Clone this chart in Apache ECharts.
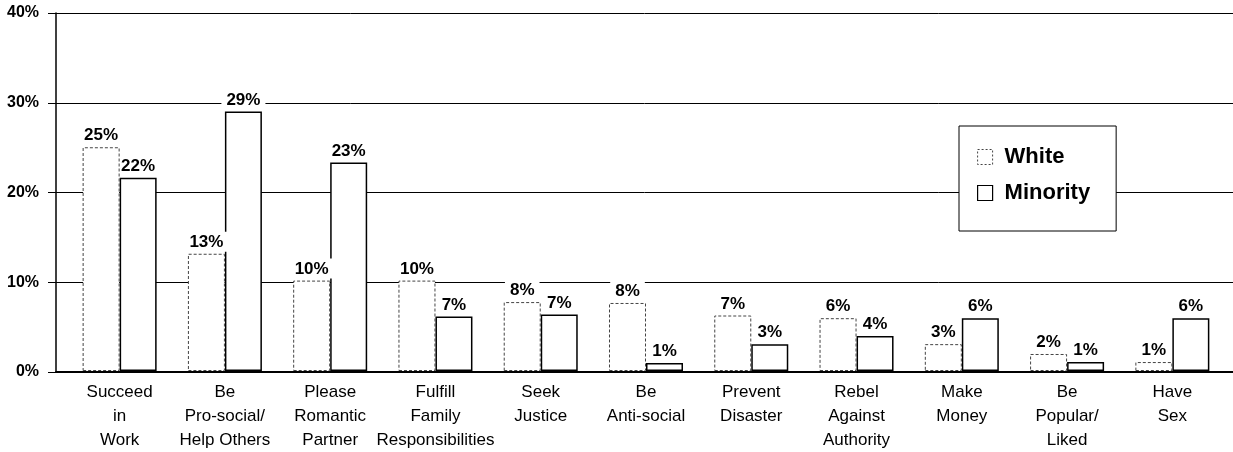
<!DOCTYPE html>
<html>
<head>
<meta charset="utf-8">
<script src="https://cdn.jsdelivr.net/npm/echarts@6/dist/echarts.min.js"></script>
<style>
html,body{margin:0;padding:0;background:#fff;}
#chart{width:1233px;height:452px;}
</style>
</head>
<body>
<div id="chart"></div>
<script>
var categories = [
  "Succeed\nin\nWork",
  "Be\nPro-social/\nHelp Others",
  "Please\nRomantic\nPartner",
  "Fulfill\nFamily\nResponsibilities",
  "Seek\nJustice",
  "Be\nAnti-social",
  "Prevent\nDisaster",
  "Rebel\nAgainst\nAuthority",
  "Make\nMoney",
  "Be\nPopular/\nLiked",
  "Have\nSex"
];
var whiteValues    = [25.0, 13.1, 10.1, 10.1, 7.7, 7.6, 6.2, 5.9, 3.0, 1.9, 1.0];
var minorityValues = [21.6, 29.0, 23.3, 6.1, 6.3, 0.9, 3.0, 3.9, 5.9, 1.0, 5.9];
var whiteLabels    = ["25%","13%","10%","10%","8%","8%","7%","6%","3%","2%","1%"];
var minorityLabels = ["22%","29%","23%","7%","7%","1%","3%","4%","6%","1%","6%"];
var yTicks = [0, 10, 20, 30, 40];

var FONT = "'Liberation Sans', Arial, sans-serif";
var chart = echarts.init(document.getElementById('chart'), null, {renderer:'canvas'});

function labelCfg(labels){
  return {
    show: true,
    position: 'top',
    distance: 2,
    formatter: function(p){ return labels[p.dataIndex]; },
    color: '#000',
    fontFamily: FONT,
    fontWeight: 'bold',
    fontSize: 17,
    backgroundColor: '#fff',
    padding: [2, 5, 1, 5]
  };
}

var option = {
  backgroundColor: '#fff',
  animation: false,
  grid: [
    {left: 67, right: 8, top: 13, bottom: 80},
    {left: 56, right: 0, top: 13, bottom: 80}
  ],
  legend: {
    left: 959, top: 126,
    orient: 'vertical',
    selectedMode: false,
    backgroundColor: '#fff',
    borderColor: '#000',
    borderWidth: 1,
    padding: [20, 26, 27, 18],
    itemGap: 14,
    itemWidth: 15,
    itemHeight: 15,
    icon: 'rect',
    textStyle: {color:'#000', fontFamily: FONT, fontWeight:'bold', fontSize: 22, padding:[0,0,0,7]},
    data: [
      {name:'White', itemStyle:{color:'#fff', borderColor:'#444', borderWidth:1, borderType:[2,2]}},
      {name:'Minority', itemStyle:{color:'#fff', borderColor:'#000', borderWidth:1.2, borderType:'solid'}}
    ]
  },
  xAxis: [
    {
      type: 'category', gridIndex: 0, data: categories,
      axisLine: {show:false}, axisTick: {show:false},
      axisLabel: {
        interval: 0, margin: 9, color:'#000', fontFamily: FONT, fontSize: 17,
        lineHeight: 24
      }
    },
    {
      type: 'value', gridIndex: 1, min: 0, max: 1, show: true,
      axisLine: {show:true, onZero:false, lineStyle:{color:'#000', width:2}},
      axisTick: {show:false}, axisLabel: {show:false}, splitLine: {show:false}
    }
  ],
  yAxis: [
    {
      type: 'value', gridIndex: 0, min: 0, max: 40, interval: 10, show: false
    },
    {
      type: 'value', gridIndex: 1, min: 0, max: 40, interval: 10,
      axisLine: {show:true, lineStyle:{color:'#000', width:1.5}},
      axisTick: {show:true, length: 8, lineStyle:{color:'#000', width:1}},
      splitLine: {show:true, lineStyle:{color:'#000', width:1}},
      axisLabel: {
        margin: 17, color:'#000', fontFamily: FONT, fontWeight:'bold', fontSize: 16,
        formatter: function(v){ return yTicks.indexOf(v) >= 0 ? v + '%' : ''; }
      }
    }
  ],
  series: [
    {
      name: 'White', type: 'bar', xAxisIndex: 0, yAxisIndex: 0,
      data: whiteValues, barWidth: 37, barGap: '0%', z: 3,
      itemStyle: {color:'#fff', borderColor:'#444', borderWidth:1, borderType:[3,2]},
      label: labelCfg(whiteLabels)
    },
    {
      name: 'Minority', type: 'bar', xAxisIndex: 0, yAxisIndex: 0,
      data: minorityValues, barWidth: 37, barGap: '0%', z: 2,
      itemStyle: {color:'#fff', borderColor:'#000', borderWidth:1.5, borderType:'solid'},
      label: labelCfg(minorityLabels)
    }
  ]
};
chart.setOption(option);
</script>
</body>
</html>
